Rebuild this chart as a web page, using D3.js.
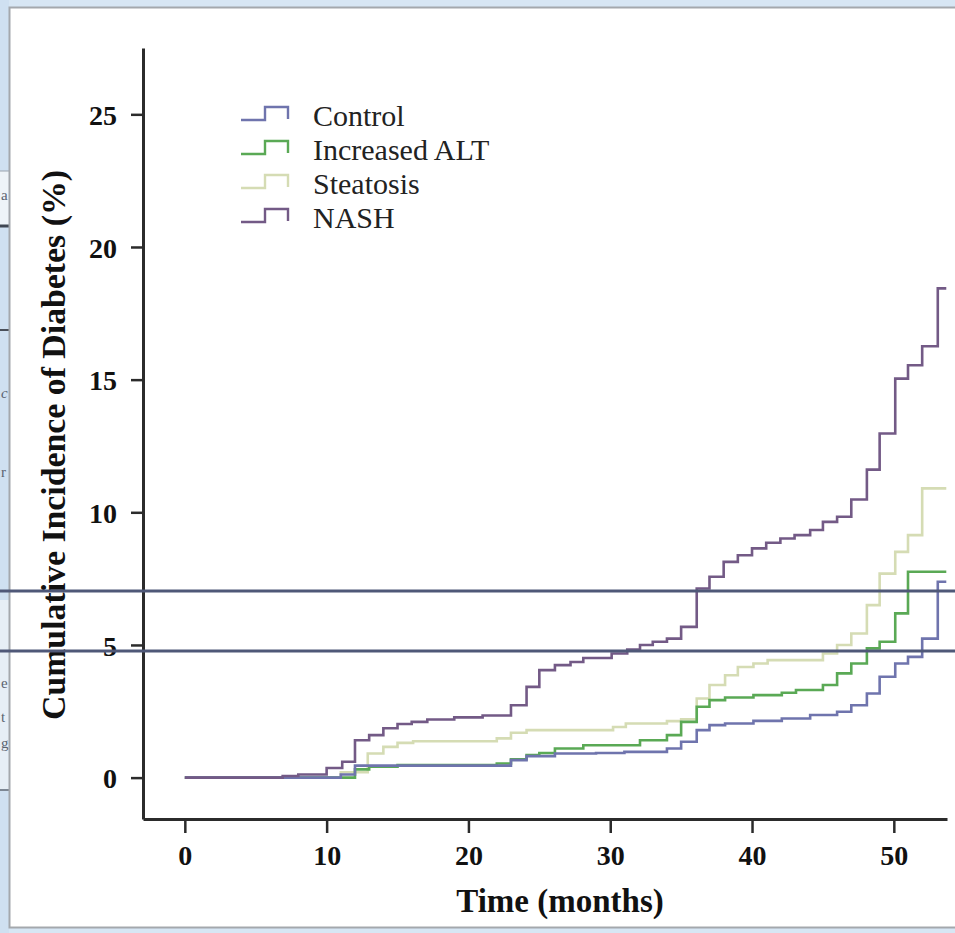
<!DOCTYPE html>
<html>
<head>
<meta charset="utf-8">
<script src="https://cdn.jsdelivr.net/npm/d3@7"></script>
<style>
  html, body { margin: 0; padding: 0; background: #d7e6f4; }
  svg { display: block; }
</style>
</head>
<body>
<svg id="chart" width="955" height="933"></svg>
<script>
// Kaplan-Meier style cumulative incidence of diabetes, by liver group
const groups = ["Control", "Increased ALT", "Steatosis", "NASH"];
const groupColors = ["#6f74ad", "#5aa955", "#d5dcb4", "#735a86"];

const controlTimes = [0, 11, 12, 23, 24.1, 26.1, 29, 31, 34, 35, 36.1, 37, 38.1, 40.1, 42.1, 44.1, 46, 47, 48.1, 49, 50.1, 51, 52, 53.1, 53.7];
const controlValues = [0, 0.12, 0.45, 0.66, 0.81, 0.91, 0.93, 0.97, 1.1, 1.35, 1.79, 1.98, 2.04, 2.14, 2.23, 2.36, 2.48, 2.73, 3.17, 3.8, 4.3, 4.55, 5.24, 7.38, 7.38];

const altTimes = [0, 12, 13, 15, 22, 23, 24.1, 25, 26.1, 28.1, 32.1, 34, 35, 36.1, 37, 38.1, 40.1, 42.1, 43.1, 45, 46, 47, 48.1, 49, 50.1, 51, 53.7];
const altValues = [0, 0.31, 0.41, 0.47, 0.53, 0.69, 0.85, 0.93, 1.1, 1.22, 1.41, 1.6, 2.1, 2.67, 2.92, 3.02, 3.11, 3.2, 3.3, 3.49, 3.93, 4.3, 4.87, 5.12, 6.19, 7.76, 7.76];

const steatosisTimes = [0, 11, 12.9, 14, 15, 16.1, 22, 23, 24.1, 30.2, 31.1, 34, 35, 36.1, 37, 38.1, 39, 40.1, 41.1, 45, 46, 47, 48.1, 49, 50.1, 51, 52, 53.7];
const steatosisValues = [0, 0.2, 0.91, 1.16, 1.31, 1.37, 1.48, 1.69, 1.79, 1.91, 2.04, 2.13, 2.2, 2.98, 3.49, 3.86, 4.17, 4.3, 4.43, 4.68, 5.0, 5.43, 6.5, 7.69, 8.51, 9.14, 10.9, 10.9];

const nashTimes = [0, 6.9, 8, 10, 11.1, 12, 13, 14, 15, 16, 17.1, 19, 21, 23, 24.1, 25, 26.1, 27.2, 28.1, 30.1, 31.2, 32.1, 33, 34, 35, 36.1, 37, 38, 39, 40, 41, 42, 43, 44.1, 45, 46, 47, 48.1, 49, 50.1, 51, 52, 53.1, 53.7];
const nashValues = [0, 0.06, 0.12, 0.36, 0.6, 1.41, 1.6, 1.86, 2.02, 2.1, 2.19, 2.27, 2.34, 2.73, 3.42, 4.05, 4.24, 4.36, 4.51, 4.68, 4.83, 5.0, 5.12, 5.24, 5.68, 7.13, 7.57, 8.13, 8.38, 8.64, 8.85, 9.01, 9.14, 9.33, 9.64, 9.83, 10.48, 11.61, 12.97, 15.04, 15.54, 16.26, 18.44, 18.44];

const xTicks = [0, 10, 20, 30, 40, 50];
const yTicks = [0, 5, 10, 15, 20, 25];

const series = [
  { name: groups[0], color: groupColors[0], t: controlTimes, v: controlValues },
  { name: groups[1], color: groupColors[1], t: altTimes, v: altValues },
  { name: groups[2], color: groupColors[2], t: steatosisTimes, v: steatosisValues },
  { name: groups[3], color: groupColors[3], t: nashTimes, v: nashValues }
];

const svg = d3.select("#chart");
const serif = "'Liberation Serif', 'Times New Roman', serif";

// ---- page frame around the figure ----
svg.append("rect").attr("x", 0).attr("y", 0).attr("width", 955).attr("height", 933).attr("fill", "#d7e6f4");
svg.append("rect").attr("x", 0).attr("y", 0).attr("width", 9).attr("height", 933).attr("fill", "#cfe0f1");
// narrow strip of the neighbouring page column
const side = svg.append("g").attr("font-family", serif).attr("font-size", 15).attr("fill", "#5a6270");
side.append("rect").attr("x", 0).attr("y", 171).attr("width", 9).attr("height", 55).attr("fill", "#eef3f8");
side.append("line").attr("x1", 0).attr("x2", 9).attr("y1", 171).attr("y2", 171).attr("stroke", "#9aa3ad").attr("stroke-width", 1);
side.append("line").attr("x1", 0).attr("x2", 9).attr("y1", 226).attr("y2", 226).attr("stroke", "#3f4652").attr("stroke-width", 3);
side.append("line").attr("x1", 0).attr("x2", 9).attr("y1", 330).attr("y2", 330).attr("stroke", "#4a505a").attr("stroke-width", 2);
side.append("rect").attr("x", 0).attr("y", 600).attr("width", 9).attr("height", 190).attr("fill", "#e6eef6");
side.append("line").attr("x1", 0).attr("x2", 9).attr("y1", 790).attr("y2", 790).attr("stroke", "#7d8794").attr("stroke-width", 2);
[["a", 200], ["c", 398], ["r", 477], ["e", 688], ["t", 722], ["g", 748]].forEach(([s, y]) => {
  side.append("text").attr("x", 1).attr("y", y).text(s).attr("font-style", s === "c" ? "italic" : "normal");
});

// white figure panel
svg.append("rect").attr("x", 9.5).attr("y", 7.5).attr("width", 960).attr("height", 920)
  .attr("fill", "#ffffff").attr("stroke", "#a4a8ad").attr("stroke-width", 2);

// ---- scales ----
const x = d3.scaleLinear().domain([-2.95, 53.75]).range([143, 947]);
const y = d3.scaleLinear().domain([-1.56, 27.5]).range([819, 48]);

// ---- axes ----
const axisColor = "#2b2b2b";
const xAxis = svg.append("g").attr("transform", `translate(0, ${y(-1.56)})`)
  .call(d3.axisBottom(x).tickValues(xTicks).tickSize(14).tickSizeOuter(0).tickPadding(12));
const yAxis = svg.append("g").attr("transform", `translate(${x(-2.95)}, 0)`)
  .call(d3.axisLeft(y).tickValues(yTicks).tickSize(12).tickSizeOuter(0).tickPadding(14));

[xAxis, yAxis].forEach(g => {
  g.select(".domain").attr("stroke", axisColor).attr("stroke-width", 3);
  g.selectAll(".tick line").attr("stroke", axisColor).attr("stroke-width", 2.5);
  g.selectAll(".tick text").attr("fill", "#111").attr("font-family", serif)
    .attr("font-weight", "bold").attr("font-size", 28);
});
yAxis.selectAll(".tick text").attr("dy", "0.36em");

// axis titles
svg.append("text").attr("x", 560).attr("y", 912).attr("text-anchor", "middle")
  .attr("font-family", serif).attr("font-weight", "bold").attr("font-size", 33).attr("fill", "#111")
  .text("Time (months)");
svg.append("text").attr("transform", "translate(65, 445) rotate(-90)").attr("text-anchor", "middle")
  .attr("font-family", serif).attr("font-weight", "bold").attr("font-size", 33).attr("fill", "#111")
  .attr("textLength", 550).attr("lengthAdjust", "spacingAndGlyphs")
  .text("Cumulative Incidence of Diabetes (%)");

// ---- step curves ----
const line = d3.line().curve(d3.curveStepAfter).x(d => x(d[0])).y(d => y(d[1]));
const drawOrder = [2, 1, 0, 3];
drawOrder.forEach(i => {
  const s = series[i];
  const pts = s.t.map((t, k) => [t, s.v[k]]);
  svg.append("path").datum(pts).attr("d", line)
    .attr("fill", "none").attr("stroke", s.color).attr("stroke-width", 2.6)
    .attr("stroke-linejoin", "miter");
});

// ---- legend ----
const legend = svg.append("g").attr("transform", "translate(241, 107)");
series.forEach((s, i) => {
  const g = legend.append("g").attr("transform", `translate(0, ${i * 34})`);
  g.append("path").attr("d", "M0,13 H24 V0 H47 V12")
    .attr("fill", "none").attr("stroke", s.color).attr("stroke-width", 2.4);
  g.append("text").attr("x", 72).attr("y", 19).attr("font-family", serif)
    .attr("font-size", 30).attr("fill", "#222").text(s.name);
});

// ---- horizontal rules crossing the page ----
[591, 651].forEach(yy => {
  svg.append("line").attr("x1", 0).attr("x2", 955).attr("y1", yy).attr("y2", yy)
    .attr("stroke", "#4f5878").attr("stroke-width", 3);
});
</script>
</body>
</html>
